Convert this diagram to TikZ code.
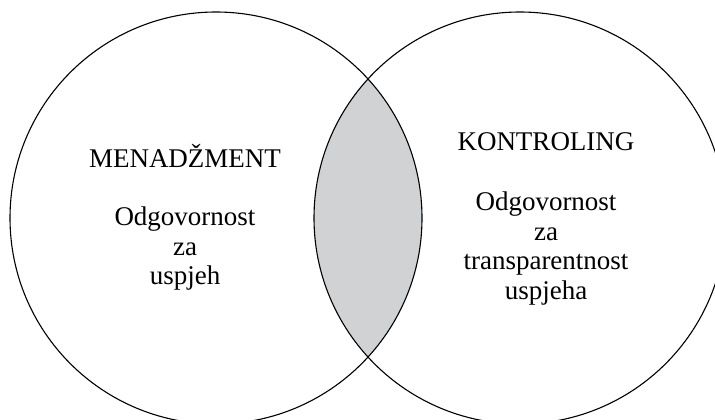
\documentclass[tikz,border=0pt]{standalone}
\usepackage{fontspec}
\setmainfont{Liberation Serif}
\usetikzlibrary{positioning}
\definecolor{lens}{HTML}{D1D2D4}

\tikzset{
  ring/.style={draw=black,line width=1.1pt},
  label/.style={font=\fontsize{27}{29.5}\selectfont,inner sep=0pt,align=center}
}

\begin{document}
\begin{tikzpicture}[x=1pt,y=-1pt]
\useasboundingbox (0,0) rectangle (715,420);
\clip (0,0) rectangle (715,420);
\coordinate (cm) at (216,218);
\coordinate (ck) at (520,218);
\begin{scope}
\clip (cm) circle[radius=206];
\fill[lens] (ck) circle[radius=206];
\end{scope}
\draw[ring] (cm) circle[radius=206];
\draw[ring] (ck) circle[radius=206];
\node[label,anchor=base] (menadzment) at (185,167) {MENADŽMENT};
\node[label,anchor=base] (kontroling) at (546,150) {KONTROLING};
\node[label,anchor=north] (uspjeh) at (185,207) {Odgovornost\\za\\uspjeh};
\node[label,anchor=north] (transparentnost) at (546,192) {Odgovornost\\za\\transparentnost\\uspjeha};
\end{tikzpicture}
\end{document}
